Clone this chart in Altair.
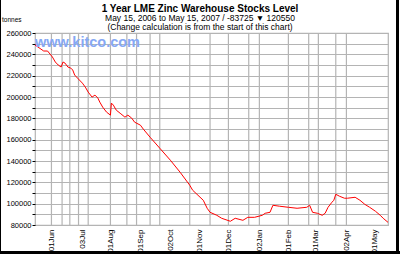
import altair as alt
import pandas as pd

dates = ["2006-05-15","2006-05-18","2006-05-24","2006-05-28","2006-06-02","2006-06-05","2006-06-08",
         "2006-06-11","2006-06-13","2006-06-15","2006-06-18","2006-06-21","2006-06-23","2006-06-25",
         "2006-06-28","2006-07-03","2006-07-06","2006-07-09","2006-07-13","2006-07-16","2006-07-19",
         "2006-07-21","2006-07-24","2006-07-28","2006-08-01","2006-08-02","2006-08-04","2006-08-07",
         "2006-08-11","2006-08-16","2006-08-19","2006-08-23","2006-08-26","2006-09-01","2006-09-04",
         "2006-09-11","2006-09-21","2006-10-02","2006-10-12","2006-10-22","2006-10-25","2006-11-05",
         "2006-11-09","2006-11-12","2006-11-19","2006-11-24","2006-12-03","2006-12-08","2006-12-16",
         "2006-12-21","2006-12-28","2007-01-05","2007-01-08","2007-01-13","2007-01-16","2007-01-23",
         "2007-02-01","2007-02-10","2007-02-20","2007-02-23","2007-02-26","2007-03-03","2007-03-08",
         "2007-03-11","2007-03-14","2007-03-18","2007-03-20","2007-03-22","2007-03-26","2007-03-31",
         "2007-04-03","2007-04-11","2007-04-16","2007-04-21","2007-04-26","2007-05-02","2007-05-07",
         "2007-05-10","2007-05-15"]
stocks = [248700,246900,243100,243100,237500,232800,230000,
          228100,232800,231800,228100,227100,225300,220600,
          217700,213000,209300,204600,199900,201800,199000,
          195200,190500,185800,183000,194300,192400,187700,
          184800,181100,183000,180200,176400,173600,169900,
          162300,152000,140700,129500,117300,112600,103200,
          95700,91900,89100,86300,83500,86300,84400,
          87200,87200,89100,91000,91900,98500,97600,
          96600,95700,96600,98500,91900,91000,89100,
          91000,96600,101300,103200,108800,106900,105100,
          105100,106000,103200,99400,96600,92900,89100,
          86300,82500]

tick_dates = ["2006-06-01","2006-07-03","2006-08-01","2006-09-01","2006-10-02","2006-11-01",
              "2006-12-01","2007-01-02","2007-02-01","2007-03-01","2007-04-02","2007-05-01"]
grid_dates = ["2006-06-01","2006-06-12","2006-06-20","2006-06-29","2006-07-09","2006-08-01",
              "2006-08-18","2006-08-28","2006-09-11","2006-09-21","2006-10-22","2006-11-12",
              "2006-12-01","2006-12-22","2007-01-02","2007-02-01","2007-02-22","2007-03-04",
              "2007-03-22","2007-04-02"]
y_ticks = list(range(80000, 260001, 10000))

title_text = "1 Year LME Zinc Warehouse Stocks Level"
subtitle_text = "May 15, 2006 to May 15, 2007 / -83725 \u25bc 120550"
note_text = "(Change calculation is from the start of this chart)"
unit_label = "tonnes"
watermark_text = "www.kitco.com"

df = pd.DataFrame({"date": dates, "stocks": stocks})
gdf = pd.DataFrame({"date": grid_dates})
tick_ms = [int(pd.Timestamp(d, tz="UTC").value // 10**6) for d in tick_dates]

FONT = "Liberation Sans"
GRID = "#b4b4b4"

x_scale = alt.Scale(type="utc", domain=[alt.DateTime(year=2006, month=5, date=15, utc=True),
                                        alt.DateTime(year=2007, month=5, date=15, utc=True)])
x_axis = alt.Axis(values=tick_ms,
                  labelExpr="utcFormat(datum.value, '%d%b')",
                  labelAngle=270, labelAlign="right", labelBaseline="middle",
                  labelFont=FONT, labelFontSize=8, labelColor="#000",
                  labelOverlap=False, labelBound=False, labelFlush=False,
                  grid=False, ticks=False, domain=False, title=None, labelPadding=4)
y_enc = alt.Y("stocks:Q",
              scale=alt.Scale(domain=[80000, 260000], nice=False),
              axis=alt.Axis(values=y_ticks,
                            labelExpr="datum.value % 20000 == 0 ? format(datum.value, 'd') : ''",
                            labelFont=FONT, labelFontSize=7.5, labelColor="#000",
                            labelOverlap=False,
                            grid=True, gridColor=GRID, gridWidth=1.2,
                            tickColor="#000", tickSize=3, domain=False, title=None, labelPadding=1))

vgrid = alt.Chart(gdf).mark_rule(color=GRID, strokeWidth=1.2).encode(
    x=alt.X("date:T", scale=x_scale, axis=x_axis))

line = alt.Chart(df).mark_line(color="#ff0000", strokeWidth=1).encode(
    x=alt.X("date:T", scale=x_scale, axis=x_axis), y=y_enc)

watermark = alt.Chart(pd.DataFrame({"t": [watermark_text]})).mark_text(
    font=FONT, fontSize=14.5, fontWeight="bold", color="#86a8f4", align="left", baseline="top"
).encode(x=alt.value(0), y=alt.value(3), text="t:N")

unit = alt.Chart(pd.DataFrame({"t": [unit_label]})).mark_text(
    font=FONT, fontSize=6.5, color="#000", align="left", baseline="middle"
).encode(x=alt.value(-33), y=alt.value(-13), text="t:N")

def text_line(s, y, size, weight):
    return alt.Chart(pd.DataFrame({"t": [s]})).mark_text(
        font=FONT, fontSize=size, fontWeight=weight, color="#000", align="center", baseline="middle"
    ).encode(x=alt.value(165), y=alt.value(y), text="t:N")

t1 = text_line(title_text, -24.5, 10, "bold")
t2 = text_line(subtitle_text, -15.5, 8.5, "normal")
t3 = text_line(note_text, -6.5, 8.5, "normal")

frame_df = pd.DataFrame({"a": [0]})
left_edge = alt.Chart(frame_df).mark_rule(color="#000", strokeWidth=1).encode(
    x=alt.value(-34.5), y=alt.value(-33), y2=alt.value(221))
right_edge = alt.Chart(frame_df).mark_rule(color="#000", strokeWidth=3).encode(
    x=alt.value(362.5), y=alt.value(-33), y2=alt.value(221))
bottom_edge = alt.Chart(frame_df).mark_rule(color="#000", strokeWidth=3).encode(
    x=alt.value(-35), x2=alt.value(365), y=alt.value(219.5))

chart = alt.layer(vgrid, line, watermark, unit, t1, t2, t3, left_edge, right_edge, bottom_edge).properties(
    width=353, height=192,
    autosize=alt.AutoSizeParams(type="none"),
    padding={"left": 35, "top": 33, "right": 12, "bottom": 29},
    background="#ffffff"
).configure_view(stroke=GRID, strokeWidth=1.2).configure_axis(labelOverlap=False)

chart.save("out.html", embed_options={"renderer": "svg", "actions": False})
